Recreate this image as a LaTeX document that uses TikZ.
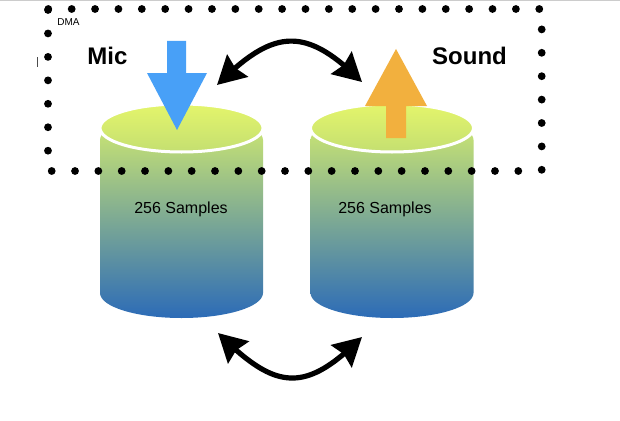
\documentclass[tikz,border=0pt]{standalone}
\usepackage{fontspec}
\setmainfont{Liberation Sans}
\usetikzlibrary{arrows.meta,bending}
\definecolor{micblue}{HTML}{48A0F7}
\definecolor{sndorange}{HTML}{F2B03E}
\definecolor{captop}{HTML}{E4F56B}
\definecolor{capbot}{HTML}{C4DF71}
\definecolor{bodytop}{HTML}{D2EB6F}
\definecolor{bodymid}{HTML}{84B987}
\definecolor{bodybot}{HTML}{2C6BB7}
\tikzset{
  can/.pic={
    \shade[top color=bodytop, middle color=bodymid, bottom color=bodybot]
      (-81.5,12) -- (-81.5,165)
      arc[start angle=180, end angle=360, x radius=81.5pt, y radius=25pt]
      -- (81.5,12)
      arc[start angle=0, end angle=180, x radius=81.5pt, y radius=24pt] -- cycle;
    \shadedraw[top color=captop, bottom color=capbot, draw=white, line width=3pt]
      (0,0) ellipse[x radius=81.5pt, y radius=24pt];
  },
  dmadot/.style={fill=black, radius=3.9pt},
  swaparrow/.style={line width=5.2pt, {Stealth[length=28pt,width=30pt,inset=3pt]}-{Stealth[length=28pt,width=30pt,inset=3pt]}},
  biglabel/.style={font=\fontsize{24}{28}\selectfont\bfseries, inner sep=0pt},
  samplelabel/.style={font=\fontsize{16}{19}\selectfont, inner sep=0pt},
  smalllabel/.style={font=\fontsize{10}{12}\selectfont, inner sep=0pt},
}
\begin{document}
\begin{tikzpicture}[x=1pt,y=-1pt]
\useasboundingbox (0,0) rectangle (620,420);
\fill[white] (0,0) rectangle (620,420);
\fill[black!20] (0,0) rectangle (620,1.2);
% cursor
\draw[black!70, line width=0.9pt] (37,57) -- (37,67);

% cylinders
\pic at (181.5,128) {can};
\pic at (392,128) {can};

% mic arrow
\fill[micblue] (167,41) -- (186,41) -- (186,73) -- (207,73) -- (177,130) -- (147,73) -- (167,73) -- cycle;
% sound arrow
\fill[sndorange] (396,49) -- (427,106) -- (406,106) -- (406,138) -- (386,138) -- (386,106) -- (365,106) -- cycle;

% labels
\node[smalllabel] (dma) at (68.5,22.5) {DMA};
\node[biglabel] (mic) at (107.5,55.5) {Mic};
\node[biglabel] (sound) at (469.5,55.5) {Sound};
\node[samplelabel] (s1) at (181,209) {256 Samples};
\node[samplelabel] (s2) at (385,209) {256 Samples};

% swap arrows
\coordinate (ta) at (217,85);
\coordinate (tb) at (362,82);
\coordinate (ba) at (218,333);
\coordinate (bb) at (362,337);
\draw[swaparrow] (ta) .. controls (273.5,28.5) and (305.5,25.5) .. (tb);
\draw[swaparrow] (ba) .. controls (275.3,390.3) and (304.7,394.3) .. (bb);

% dotted DMA frame
\foreach \i in {0,...,21} \fill[dmadot] (48.3+\i*23.38,9) circle;
\foreach \i in {0,...,6} \fill[dmadot] (48,10+\i*23.45) circle;
\foreach \i in {0,...,20} \fill[dmadot] (51.7+\i*23.33,171) circle;
\foreach \i in {1,...,7} \fill[dmadot] (541.7,6+\i*23.4) circle;
\end{tikzpicture}
\end{document}
